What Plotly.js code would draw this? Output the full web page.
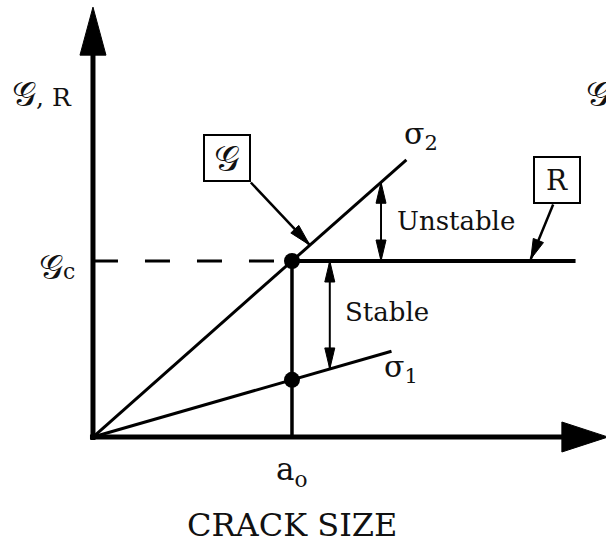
<!DOCTYPE html>
<html>
<head>
<meta charset="utf-8">
<script src="https://cdn.plot.ly/plotly-3.0.1.min.js"></script>
<style>html,body{margin:0;padding:0;background:#fff;}#chart{width:606px;height:546px;}</style>
</head>
<body>
<div id="chart"></div>
<script>
// ---- data (schematic units) ----
const a0 = 4;                       // initial crack size a_o
const Gc = 4;                       // critical energy release rate
const sigma2X = [0, 6.3];           // G curve at stress sigma2
const sigma2Y = [0, 6.3];
const sigma1X = [0, 6.0];           // G curve at stress sigma1
const sigma1Y = [0, 1.95];
const rCurveX = [4, 9.7];           // R curve (flat)
const rCurveY = [4, 4];
const pointX = [4, 4];              // marked points at a_o
const pointY = [4, 1.3];
const axisXMax = 10.35;
const axisYMax = 9.77;
const unstableAt = 5.79;
const stableAt = 4.76;
const gPointerAt = 4.36;            // where the G pointer touches sigma2
const rPointerAt = 8.8;             // where the R pointer touches R
const G = '<span style="font-size:34px">𝒢</span>';
const labels = {
  yAxis: G + ', R', gc: G + '<span style="font-size:22px">c</span>', s2: 'σ<sub>2</sub>', s1: 'σ<sub>1</sub>',
  gBox: '<span style="font-size:36px">𝒢</span>', rBox: 'R', unstable: 'Unstable', stable: 'Stable',
  a0: 'a<sub>o</sub>', xTitle: 'CRACK SIZE'
};

// ---- geometry helpers ----
const W = 606, H = 546;
const xr = [-1.869, 10.312], yr = [-2.477, 9.932];
const kx = W / (xr[1] - xr[0]), ky = H / (yr[1] - yr[0]);
const s1slope = sigma1Y[1] / sigma1X[1];
const s2slope = sigma2Y[1] / sigma2X[1];

function head(tip, from, len, hw) {
  const dx = (tip[0] - from[0]) * kx, dy = (tip[1] - from[1]) * ky;
  const L = Math.hypot(dx, dy), ux = dx / L, uy = dy / L;
  const bx = -ux * len, by = -uy * len, px = -uy * hw, py = ux * hw;
  return {
    x: [tip[0], tip[0] + (bx + px) / kx, tip[0] + (bx - px) / kx, tip[0]],
    y: [tip[1], tip[1] + (by + py) / ky, tip[1] + (by - py) / ky, tip[1]],
    type: 'scatter', mode: 'lines', fill: 'toself', fillcolor: '#000',
    line: {color: '#000', width: 1}, hoverinfo: 'skip'
  };
}
function seg(x, y, w, dash) {
  return {x, y, type: 'scatter', mode: 'lines', line: {color: '#000', width: w, dash: dash || 'solid'}, hoverinfo: 'skip'};
}

const traces = [];
// axes
const yHeadLen = 48 / ky, xHeadLen = 46 / kx;
traces.push(seg([0, 0], [-3 / ky, axisYMax - yHeadLen + 0.05], 5));
traces.push(seg([-3 / kx, axisXMax - xHeadLen + 0.05], [0, 0], 5));
traces.push(head([0, axisYMax], [0, 0], 48, 13));
traces.push(head([axisXMax, 0], [0, 0], 46, 15));
// curves
traces.push(seg([0, a0], [Gc, Gc], 3, '25px,27px'));
traces.push(seg(sigma2X, sigma2Y, 3));
traces.push(seg(sigma1X, sigma1Y, 3));
traces.push(seg(rCurveX, rCurveY, 4));
traces.push(seg([a0, a0], [0, Gc], 3.5));
traces.push({x: pointX, y: pointY, type: 'scatter', mode: 'markers', marker: {color: '#000', size: 16}, hoverinfo: 'skip'});
// double arrows
function dbl(x, y1, y2) {
  traces.push(seg([x, x], [y1, y2], 2));
  traces.push(head([x, y1], [x, y2], 21, 5));
  traces.push(head([x, y2], [x, y1], 21, 5));
}
dbl(unstableAt, Gc, s2slope * unstableAt);
dbl(stableAt, Gc, s1slope * stableAt);
// box pointers
const gBoxC = [2.69, 6.33], rBoxC = [9.33, 5.83], half = 24;
const gTail = [gBoxC[0] + half / kx, gBoxC[1] - half / ky];
const gTip = [gPointerAt, s2slope * gPointerAt];
traces.push(seg([gTail[0], gTip[0]], [gTail[1], gTip[1]], 2.5));
traces.push(head(gTip, gTail, 22, 5.5));
const rTail = [rBoxC[0] - 4 / kx, rBoxC[1] - half / ky];
const rTip = [rPointerAt, Gc + 2 / ky];
traces.push(seg([rTail[0], rTip[0]], [rTail[1], rTip[1]], 2.5));
traces.push(head(rTip, rTail, 20, 5.5));

const serif = 'DejaVu Serif, Liberation Serif, serif';
function txt(x, y, text, size, extra) {
  return Object.assign({x, y, xref: 'x', yref: 'y', text, showarrow: false, font: {family: serif, size, color: '#111'}}, extra || {});
}
const annotations = [
  txt(-1.02, 7.8, labels.yAxis, 25),
  txt(-0.72, 3.86, labels.gc, 25),
  txt(6.6, 6.86, labels.s2, 30),
  txt(6.2, 1.55, labels.s1, 30),
  txt(7.3, 4.9, labels.unstable, 26),
  txt(5.9, 2.84, labels.stable, 26),
  txt(a0, -0.78, labels.a0, 31),
  txt(a0, -2.0, labels.xTitle, 32),
  txt(9.87, 7.8, labels.yAxis, 25, {xanchor: 'left'}),
  txt(gBoxC[0], gBoxC[1], labels.gBox, 26, {width: 44, height: 44, bordercolor: '#000', borderwidth: 2, borderpad: 0, bgcolor: '#fff'}),
  txt(rBoxC[0], rBoxC[1], labels.rBox, 28, {width: 44, height: 44, bordercolor: '#000', borderwidth: 2, borderpad: 0, bgcolor: '#fff'})
];

const layout = {
  width: W, height: H, margin: {l: 0, r: 0, t: 0, b: 0},
  paper_bgcolor: '#fff', plot_bgcolor: '#fff', showlegend: false,
  xaxis: {range: xr, visible: false, fixedrange: true},
  yaxis: {range: yr, visible: false, fixedrange: true},
  annotations
};
Plotly.newPlot('chart', traces, layout, {staticPlot: true, displayModeBar: false});
</script>
</body>
</html>
